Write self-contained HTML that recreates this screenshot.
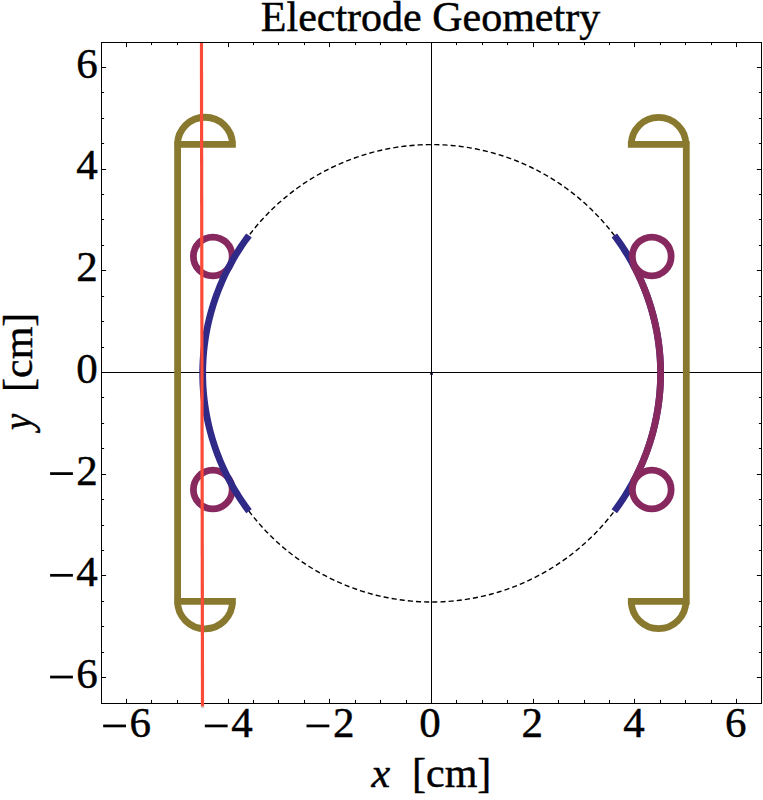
<!DOCTYPE html>
<html><head><meta charset="utf-8"><title>Electrode Geometry</title>
<style>html,body{margin:0;padding:0;background:#fff;}svg{display:block;}text{font-family:"Liberation Serif",serif;fill:#000;stroke:#000;stroke-width:0.45px;stroke-linejoin:round;}</style></head><body>
<svg width="763" height="800" viewBox="0 0 763 800">
<rect width="763" height="800" fill="#fff"/>
<rect x="430.1" y="372.6" width="2.9" height="2.3" rx="0.6" fill="#2f2987"/>
<g stroke="#000" stroke-width="1" fill="none" shape-rendering="crispEdges">
<line x1="101.5" y1="372.5" x2="761.5" y2="372.5"/>
<line x1="431.5" y1="42.5" x2="431.5" y2="703.5"/>
</g>
<path d="M431.65,144.6 L435.65,144.63 L439.64,144.74 L443.63,144.91 L447.62,145.16 L451.6,145.47 L455.58,145.85 L459.55,146.3 L463.51,146.83 L467.47,147.42 L471.41,148.07 L475.34,148.8 L479.25,149.6 L483.15,150.46 L487.04,151.39 L490.91,152.39 L494.76,153.46 L498.59,154.59 L502.4,155.79 L506.19,157.06 L509.96,158.39 L513.7,159.79 L517.42,161.25 L521.11,162.78 L524.77,164.37 L528.41,166.03 L532.02,167.75 L535.59,169.53 L539.14,171.37 L542.65,173.27 L546.12,175.24 L549.57,177.27 L552.98,179.35 L556.35,181.5 L559.68,183.7 L562.97,185.96 L566.22,188.28 L569.44,190.65 L572.61,193.08 L575.73,195.57 L578.82,198.11 L581.85,200.7 L584.85,203.34 L587.79,206.04 L590.69,208.79 L593.54,211.58 L596.34,214.43 L599.09,217.33 L601.79,220.27 L604.44,223.26 L607.04,226.29 L609.58,229.37 L612.07,232.5 L614.5,235.66 L616.87,238.87 L619.19,242.12 L621.46,245.41 L623.66,248.74 L625.81,252.11 L627.9,255.51 L629.93,258.95 L631.89,262.42 L633.8,265.93 L635.65,269.47 L637.43,273.04 L639.15,276.65 L640.81,280.28 L642.4,283.94 L643.93,287.63 L645.39,291.34 L646.79,295.08 L648.13,298.84 L649.39,302.63 L650.6,306.43 L651.73,310.26 L652.8,314.11 L653.8,317.97 L654.73,321.85 L655.6,325.75 L656.39,329.66 L657.12,333.59 L657.78,337.52 L658.37,341.47 L658.89,345.43 L659.35,349.39 L659.73,353.37 L660.04,357.35 L660.29,361.33 L660.46,365.32 L660.57,369.31 L660.6,373.3 L660.57,377.29 L660.46,381.28 L660.29,385.27 L660.04,389.25 L659.73,393.23 L659.35,397.21 L658.89,401.17 L658.37,405.13 L657.78,409.08 L657.12,413.01 L656.39,416.94 L655.6,420.85 L654.73,424.75 L653.8,428.63 L652.8,432.49 L651.73,436.34 L650.6,440.17 L649.39,443.97 L648.13,447.76 L646.79,451.52 L645.39,455.26 L643.93,458.97 L642.4,462.66 L640.81,466.32 L639.15,469.95 L637.43,473.56 L635.65,477.13 L633.8,480.67 L631.89,484.18 L629.93,487.65 L627.9,491.09 L625.81,494.49 L623.66,497.86 L621.46,501.19 L619.19,504.48 L616.87,507.73 L614.5,510.94 L612.07,514.1 L609.58,517.23 L607.04,520.31 L604.44,523.34 L601.79,526.33 L599.09,529.27 L596.34,532.17 L593.54,535.02 L590.69,537.81 L587.79,540.56 L584.85,543.26 L581.85,545.9 L578.82,548.49 L575.73,551.03 L572.61,553.52 L569.44,555.95 L566.22,558.32 L562.97,560.64 L559.68,562.9 L556.35,565.1 L552.98,567.25 L549.57,569.33 L546.12,571.36 L542.65,573.33 L539.14,575.23 L535.59,577.07 L532.02,578.85 L528.41,580.57 L524.77,582.23 L521.11,583.82 L517.42,585.35 L513.7,586.81 L509.96,588.21 L506.19,589.54 L502.4,590.81 L498.59,592.01 L494.76,593.14 L490.91,594.21 L487.04,595.21 L483.15,596.14 L479.25,597 L475.34,597.8 L471.41,598.53 L467.47,599.18 L463.51,599.77 L459.55,600.3 L455.58,600.75 L451.6,601.13 L447.62,601.44 L443.63,601.69 L439.64,601.86 L435.65,601.97 L431.65,602 L427.65,601.97 L423.66,601.86 L419.67,601.69 L415.68,601.44 L411.7,601.13 L407.72,600.75 L403.75,600.3 L399.79,599.77 L395.83,599.18 L391.89,598.53 L387.96,597.8 L384.05,597 L380.15,596.14 L376.26,595.21 L372.39,594.21 L368.54,593.14 L364.71,592.01 L360.9,590.81 L357.11,589.54 L353.34,588.21 L349.6,586.81 L345.88,585.35 L342.19,583.82 L338.53,582.23 L334.89,580.57 L331.28,578.85 L327.71,577.07 L324.16,575.23 L320.65,573.33 L317.18,571.36 L313.73,569.33 L310.32,567.25 L306.95,565.1 L303.62,562.9 L300.33,560.64 L297.08,558.32 L293.86,555.95 L290.69,553.52 L287.57,551.03 L284.48,548.49 L281.45,545.9 L278.45,543.26 L275.51,540.56 L272.61,537.81 L269.76,535.02 L266.96,532.17 L264.21,529.27 L261.51,526.33 L258.86,523.34 L256.26,520.31 L253.72,517.23 L251.23,514.1 L248.8,510.94 L246.43,507.73 L244.11,504.48 L241.84,501.19 L239.64,497.86 L237.49,494.49 L235.4,491.09 L233.37,487.65 L231.41,484.18 L229.5,480.67 L227.65,477.13 L225.87,473.56 L224.15,469.95 L222.49,466.32 L220.9,462.66 L219.37,458.97 L217.91,455.26 L216.51,451.52 L215.17,447.76 L213.91,443.97 L212.7,440.17 L211.57,436.34 L210.5,432.49 L209.5,428.63 L208.57,424.75 L207.7,420.85 L206.91,416.94 L206.18,413.01 L205.52,409.08 L204.93,405.13 L204.41,401.17 L203.95,397.21 L203.57,393.23 L203.26,389.25 L203.01,385.27 L202.84,381.28 L202.73,377.29 L202.7,373.3 L202.73,369.31 L202.84,365.32 L203.01,361.33 L203.26,357.35 L203.57,353.37 L203.95,349.39 L204.41,345.43 L204.93,341.47 L205.52,337.52 L206.18,333.59 L206.91,329.66 L207.7,325.75 L208.57,321.85 L209.5,317.97 L210.5,314.11 L211.57,310.26 L212.7,306.43 L213.91,302.63 L215.17,298.84 L216.51,295.08 L217.91,291.34 L219.37,287.63 L220.9,283.94 L222.49,280.28 L224.15,276.65 L225.87,273.04 L227.65,269.47 L229.5,265.93 L231.41,262.42 L233.37,258.95 L235.4,255.51 L237.49,252.11 L239.64,248.74 L241.84,245.41 L244.11,242.12 L246.43,238.87 L248.8,235.66 L251.23,232.5 L253.72,229.37 L256.26,226.29 L258.86,223.26 L261.51,220.27 L264.21,217.33 L266.96,214.43 L269.76,211.58 L272.61,208.79 L275.51,206.04 L278.45,203.34 L281.45,200.7 L284.48,198.11 L287.57,195.57 L290.69,193.08 L293.86,190.65 L297.08,188.28 L300.33,185.96 L303.62,183.7 L306.95,181.5 L310.32,179.35 L313.73,177.27 L317.17,175.24 L320.65,173.27 L324.16,171.37 L327.71,169.53 L331.28,167.75 L334.89,166.03 L338.53,164.37 L342.19,162.78 L345.88,161.25 L349.6,159.79 L353.34,158.39 L357.11,157.06 L360.9,155.79 L364.71,154.59 L368.54,153.46 L372.39,152.39 L376.26,151.39 L380.15,150.46 L384.05,149.6 L387.96,148.8 L391.89,148.07 L395.83,147.42 L399.79,146.83 L403.75,146.3 L407.72,145.85 L411.7,145.47 L415.68,145.16 L419.67,144.91 L423.66,144.74 L427.65,144.63 L431.65,144.6" fill="none" stroke="#000" stroke-width="1.4" stroke-dasharray="5.1 3.067" stroke-dashoffset="5.55"/>
<path d="M177.6,601.3 L177.6,144.4 M177.55,144.4 L232.45,144.4 M177.55,144.4 A27.45,27.15 0 0 1 232.45,144.4 M177.55,601.3 L232.45,601.3 M177.55,601.3 A27.45,27.55 0 0 0 232.45,601.3 M686.3,601.3 L686.3,144.4 M631.3,144.4 L685.9,144.4 M631.3,144.4 A27.3,27 0 0 1 685.9,144.4 M631.3,601.3 L685.9,601.3 M631.3,601.3 A27.3,27.4 0 0 0 685.9,601.3" fill="none" stroke="#89792e" stroke-width="6.8" stroke-linecap="square"/>
<circle cx="212.8" cy="256.4" r="19.4" fill="none" stroke="#87285f" stroke-width="6.75"/>
<circle cx="212.8" cy="489.5" r="19.4" fill="none" stroke="#87285f" stroke-width="6.75"/>
<path d="M248.99,235.41 L247.15,237.88 L245.34,240.38 L243.56,242.9 L241.82,245.45 L240.11,248.01 L238.44,250.6 L236.8,253.22 L235.2,255.85 L233.63,258.51 L232.1,261.19 L230.6,263.88 L229.14,266.6 L227.72,269.34 L226.34,272.09 L224.99,274.87 L223.68,277.66 L222.41,280.47 L221.17,283.3 L219.98,286.14 L218.82,289 L217.7,291.87 L216.62,294.76 L215.58,297.66 L214.58,300.58 L213.62,303.51 L212.7,306.45 L211.82,309.41 L210.97,312.37 L210.17,315.35 L209.41,318.34 L208.69,321.34 L208.01,324.35 L207.37,327.36 L206.77,330.39 L206.21,333.42 L205.69,336.46 L205.21,339.51 L204.78,342.56 L204.38,345.62 L204.03,348.68 L203.72,351.75 L203.45,354.82 L203.22,357.89 L203.03,360.97 L202.89,364.05 L202.78,367.13 L202.72,370.22 L202.7,373.3 L202.72,376.38 L202.78,379.47 L202.89,382.55 L203.03,385.63 L203.22,388.71 L203.45,391.78 L203.72,394.85 L204.03,397.92 L204.38,400.98 L204.78,404.04 L205.21,407.09 L205.69,410.14 L206.21,413.18 L206.77,416.21 L207.37,419.24 L208.01,422.25 L208.69,425.26 L209.41,428.26 L210.17,431.25 L210.97,434.23 L211.82,437.19 L212.7,440.15 L213.62,443.09 L214.58,446.02 L215.58,448.94 L216.62,451.84 L217.7,454.73 L218.82,457.6 L219.98,460.46 L221.17,463.3 L222.41,466.13 L223.68,468.94 L224.99,471.73 L226.34,474.51 L227.72,477.26 L229.14,480 L230.6,482.72 L232.1,485.41 L233.63,488.09 L235.2,490.75 L236.8,493.38 L238.44,496 L240.11,498.59 L241.82,501.15 L243.56,503.7 L245.34,506.22 L247.15,508.72 L248.99,511.19" fill="none" stroke="#2f2987" stroke-width="6.8"/>
<path d="M614.31,511.19 L616.15,508.72 L617.96,506.22 L619.74,503.7 L621.48,501.15 L623.19,498.59 L624.86,496 L626.5,493.38 L628.1,490.75 L629.67,488.09 L631.2,485.41 L632.7,482.72 L634.16,480 L635.58,477.26 L636.96,474.51 L638.31,471.73 L639.62,468.94 L640.89,466.13 L642.13,463.3 L643.32,460.46 L644.48,457.6 L645.6,454.73 L646.68,451.84 L647.72,448.94 L648.72,446.02 L649.68,443.09 L650.6,440.15 L651.48,437.19 L652.33,434.23 L653.13,431.25 L653.89,428.26 L654.61,425.26 L655.29,422.25 L655.93,419.24 L656.53,416.21 L657.09,413.18 L657.61,410.14 L658.09,407.09 L658.52,404.04 L658.92,400.98 L659.27,397.92 L659.58,394.85 L659.85,391.78 L660.08,388.71 L660.27,385.63 L660.41,382.55 L660.52,379.47 L660.58,376.38 L660.6,373.3 L660.58,370.22 L660.52,367.13 L660.41,364.05 L660.27,360.97 L660.08,357.89 L659.85,354.82 L659.58,351.75 L659.27,348.68 L658.92,345.62 L658.52,342.56 L658.09,339.51 L657.61,336.46 L657.09,333.42 L656.53,330.39 L655.93,327.36 L655.29,324.35 L654.61,321.34 L653.89,318.34 L653.13,315.35 L652.33,312.37 L651.48,309.41 L650.6,306.45 L649.68,303.51 L648.72,300.58 L647.72,297.66 L646.68,294.76 L645.6,291.87 L644.48,289 L643.32,286.14 L642.13,283.3 L640.89,280.47 L639.62,277.66 L638.31,274.87 L636.96,272.09 L635.58,269.34 L634.16,266.6 L632.7,263.88 L631.2,261.19 L629.67,258.51 L628.1,255.85 L626.5,253.22 L624.86,250.6 L623.19,248.01 L621.48,245.45 L619.74,242.9 L617.96,240.38 L616.15,237.88 L614.31,235.41" fill="none" stroke="#2f2987" stroke-width="6.8"/>
<path d="M633.24,481.72 L634.34,479.65 L635.43,477.56 L636.49,475.46 L637.53,473.35 L638.55,471.22 L639.55,469.09 L640.52,466.95 L641.48,464.8 L642.41,462.64 L643.32,460.47 L644.21,458.29 L645.07,456.1 L645.91,453.9 L646.73,451.69 L647.53,449.48 L648.3,447.25 L649.05,445.02 L649.78,442.78 L650.48,440.54 L651.16,438.29 L651.82,436.03 L652.45,433.76 L653.07,431.49 L653.65,429.21 L654.22,426.92 L654.76,424.63 L655.28,422.34 L655.77,420.04 L656.24,417.73 L656.68,415.42 L657.11,413.1 L657.5,410.78 L657.88,408.46 L658.23,406.13 L658.55,403.8 L658.86,401.47 L659.13,399.13 L659.39,396.79 L659.62,394.45 L659.82,392.11 L660.01,389.76 L660.16,387.41 L660.3,385.06 L660.41,382.71 L660.49,380.36 L660.55,378.01 L660.59,375.65 L660.6,373.3 L660.59,370.95 L660.55,368.59 L660.49,366.24 L660.41,363.89 L660.3,361.54 L660.16,359.19 L660.01,356.84 L659.82,354.49 L659.62,352.15 L659.39,349.81 L659.13,347.47 L658.86,345.13 L658.55,342.8 L658.23,340.47 L657.88,338.14 L657.5,335.82 L657.11,333.5 L656.68,331.18 L656.24,328.87 L655.77,326.56 L655.28,324.26 L654.76,321.97 L654.22,319.68 L653.65,317.39 L653.07,315.11 L652.45,312.84 L651.82,310.57 L651.16,308.31 L650.48,306.06 L649.78,303.82 L649.05,301.58 L648.3,299.35 L647.53,297.12 L646.73,294.91 L645.91,292.7 L645.07,290.5 L644.21,288.31 L643.32,286.13 L642.41,283.96 L641.48,281.8 L640.52,279.65 L639.55,277.51 L638.55,275.38 L637.53,273.25 L636.49,271.14 L635.43,269.04 L634.34,266.95 L633.24,264.88" fill="none" stroke="#87285f" stroke-width="6.8"/>
<circle cx="651.75" cy="256.4" r="19.4" fill="none" stroke="#87285f" stroke-width="6.75"/>
<circle cx="651.75" cy="489.5" r="19.4" fill="none" stroke="#87285f" stroke-width="6.75"/>
<g stroke="#000" stroke-width="1" fill="none">
<rect x="101.5" y="42.5" width="660.0" height="661.0" shape-rendering="crispEdges"/>
<line x1="126.5" y1="42.5" x2="126.5" y2="47.1"/><line x1="126.5" y1="703.5" x2="126.5" y2="698.9"/>
<line x1="101.5" y1="677.5" x2="106.1" y2="677.5"/><line x1="761.5" y1="677.5" x2="756.9" y2="677.5"/>
<line x1="151.5" y1="42.5" x2="151.5" y2="45.1"/><line x1="151.5" y1="703.5" x2="151.5" y2="699.9"/>
<line x1="101.5" y1="652.5" x2="104.1" y2="652.5"/><line x1="761.5" y1="652.5" x2="758.9" y2="652.5"/>
<line x1="177.5" y1="42.5" x2="177.5" y2="45.1"/><line x1="177.5" y1="703.5" x2="177.5" y2="699.9"/>
<line x1="101.5" y1="626.5" x2="104.1" y2="626.5"/><line x1="761.5" y1="626.5" x2="758.9" y2="626.5"/>
<line x1="202.5" y1="42.5" x2="202.5" y2="45.1"/><line x1="202.5" y1="703.5" x2="202.5" y2="699.9"/>
<line x1="101.5" y1="601.5" x2="104.1" y2="601.5"/><line x1="761.5" y1="601.5" x2="758.9" y2="601.5"/>
<line x1="228.5" y1="42.5" x2="228.5" y2="47.1"/><line x1="228.5" y1="703.5" x2="228.5" y2="698.9"/>
<line x1="101.5" y1="575.5" x2="106.1" y2="575.5"/><line x1="761.5" y1="575.5" x2="756.9" y2="575.5"/>
<line x1="253.5" y1="42.5" x2="253.5" y2="45.1"/><line x1="253.5" y1="703.5" x2="253.5" y2="699.9"/>
<line x1="101.5" y1="550.5" x2="104.1" y2="550.5"/><line x1="761.5" y1="550.5" x2="758.9" y2="550.5"/>
<line x1="278.5" y1="42.5" x2="278.5" y2="45.1"/><line x1="278.5" y1="703.5" x2="278.5" y2="699.9"/>
<line x1="101.5" y1="525.5" x2="104.1" y2="525.5"/><line x1="761.5" y1="525.5" x2="758.9" y2="525.5"/>
<line x1="304.5" y1="42.5" x2="304.5" y2="45.1"/><line x1="304.5" y1="703.5" x2="304.5" y2="699.9"/>
<line x1="101.5" y1="499.5" x2="104.1" y2="499.5"/><line x1="761.5" y1="499.5" x2="758.9" y2="499.5"/>
<line x1="329.5" y1="42.5" x2="329.5" y2="47.1"/><line x1="329.5" y1="703.5" x2="329.5" y2="698.9"/>
<line x1="101.5" y1="474.5" x2="106.1" y2="474.5"/><line x1="761.5" y1="474.5" x2="756.9" y2="474.5"/>
<line x1="355.5" y1="42.5" x2="355.5" y2="45.1"/><line x1="355.5" y1="703.5" x2="355.5" y2="699.9"/>
<line x1="101.5" y1="448.5" x2="104.1" y2="448.5"/><line x1="761.5" y1="448.5" x2="758.9" y2="448.5"/>
<line x1="380.5" y1="42.5" x2="380.5" y2="45.1"/><line x1="380.5" y1="703.5" x2="380.5" y2="699.9"/>
<line x1="101.5" y1="423.5" x2="104.1" y2="423.5"/><line x1="761.5" y1="423.5" x2="758.9" y2="423.5"/>
<line x1="406.5" y1="42.5" x2="406.5" y2="45.1"/><line x1="406.5" y1="703.5" x2="406.5" y2="699.9"/>
<line x1="101.5" y1="397.5" x2="104.1" y2="397.5"/><line x1="761.5" y1="397.5" x2="758.9" y2="397.5"/>
<line x1="431.5" y1="42.5" x2="431.5" y2="47.1"/><line x1="431.5" y1="703.5" x2="431.5" y2="698.9"/>
<line x1="101.5" y1="372.5" x2="106.1" y2="372.5"/><line x1="761.5" y1="372.5" x2="756.9" y2="372.5"/>
<line x1="456.5" y1="42.5" x2="456.5" y2="45.1"/><line x1="456.5" y1="703.5" x2="456.5" y2="699.9"/>
<line x1="101.5" y1="347.5" x2="104.1" y2="347.5"/><line x1="761.5" y1="347.5" x2="758.9" y2="347.5"/>
<line x1="482.5" y1="42.5" x2="482.5" y2="45.1"/><line x1="482.5" y1="703.5" x2="482.5" y2="699.9"/>
<line x1="101.5" y1="321.5" x2="104.1" y2="321.5"/><line x1="761.5" y1="321.5" x2="758.9" y2="321.5"/>
<line x1="507.5" y1="42.5" x2="507.5" y2="45.1"/><line x1="507.5" y1="703.5" x2="507.5" y2="699.9"/>
<line x1="101.5" y1="296.5" x2="104.1" y2="296.5"/><line x1="761.5" y1="296.5" x2="758.9" y2="296.5"/>
<line x1="533.5" y1="42.5" x2="533.5" y2="47.1"/><line x1="533.5" y1="703.5" x2="533.5" y2="698.9"/>
<line x1="101.5" y1="270.5" x2="106.1" y2="270.5"/><line x1="761.5" y1="270.5" x2="756.9" y2="270.5"/>
<line x1="558.5" y1="42.5" x2="558.5" y2="45.1"/><line x1="558.5" y1="703.5" x2="558.5" y2="699.9"/>
<line x1="101.5" y1="245.5" x2="104.1" y2="245.5"/><line x1="761.5" y1="245.5" x2="758.9" y2="245.5"/>
<line x1="584.5" y1="42.5" x2="584.5" y2="45.1"/><line x1="584.5" y1="703.5" x2="584.5" y2="699.9"/>
<line x1="101.5" y1="219.5" x2="104.1" y2="219.5"/><line x1="761.5" y1="219.5" x2="758.9" y2="219.5"/>
<line x1="609.5" y1="42.5" x2="609.5" y2="45.1"/><line x1="609.5" y1="703.5" x2="609.5" y2="699.9"/>
<line x1="101.5" y1="194.5" x2="104.1" y2="194.5"/><line x1="761.5" y1="194.5" x2="758.9" y2="194.5"/>
<line x1="634.5" y1="42.5" x2="634.5" y2="47.1"/><line x1="634.5" y1="703.5" x2="634.5" y2="698.9"/>
<line x1="101.5" y1="169.5" x2="106.1" y2="169.5"/><line x1="761.5" y1="169.5" x2="756.9" y2="169.5"/>
<line x1="660.5" y1="42.5" x2="660.5" y2="45.1"/><line x1="660.5" y1="703.5" x2="660.5" y2="699.9"/>
<line x1="101.5" y1="143.5" x2="104.1" y2="143.5"/><line x1="761.5" y1="143.5" x2="758.9" y2="143.5"/>
<line x1="685.5" y1="42.5" x2="685.5" y2="45.1"/><line x1="685.5" y1="703.5" x2="685.5" y2="699.9"/>
<line x1="101.5" y1="118.5" x2="104.1" y2="118.5"/><line x1="761.5" y1="118.5" x2="758.9" y2="118.5"/>
<line x1="711.5" y1="42.5" x2="711.5" y2="45.1"/><line x1="711.5" y1="703.5" x2="711.5" y2="699.9"/>
<line x1="101.5" y1="92.5" x2="104.1" y2="92.5"/><line x1="761.5" y1="92.5" x2="758.9" y2="92.5"/>
<line x1="736.5" y1="42.5" x2="736.5" y2="47.1"/><line x1="736.5" y1="703.5" x2="736.5" y2="698.9"/>
<line x1="101.5" y1="67.5" x2="106.1" y2="67.5"/><line x1="761.5" y1="67.5" x2="756.9" y2="67.5"/>
</g>
<line x1="201.45" y1="43" x2="202.5" y2="706.5" stroke="#fa4a38" stroke-width="3.2"/>
<rect x="200.9" y="706.5" width="3.2" height="1.6" fill="#8a9090" opacity="0.45"/>
<text id="title" x="430.5" y="30.9" font-size="42" text-anchor="middle">Electrode Geometry</text>
<rect x="103.16" y="724.55" width="22.8" height="2.75" fill="#000"/>
<text class="xt" x="129.56" y="736.9" font-size="43">6</text>
<rect x="50.1" y="675.66" width="22.8" height="2.75" fill="#000"/>
<text class="yt" x="97.8" y="687.96" font-size="43" text-anchor="end">6</text>
<rect x="204.84" y="724.55" width="22.8" height="2.75" fill="#000"/>
<text class="xt" x="231.24" y="736.9" font-size="43">4</text>
<rect x="50.1" y="573.94" width="22.8" height="2.75" fill="#000"/>
<text class="yt" x="97.8" y="586.24" font-size="43" text-anchor="end">4</text>
<rect x="306.52" y="724.55" width="22.8" height="2.75" fill="#000"/>
<text class="xt" x="332.92" y="736.9" font-size="43">2</text>
<rect x="50.1" y="472.22" width="22.8" height="2.75" fill="#000"/>
<text class="yt" x="97.8" y="484.52" font-size="43" text-anchor="end">2</text>
<text class="xt" x="429.9" y="736.9" font-size="43" text-anchor="middle">0</text>
<text class="yt" x="97.8" y="382.8" font-size="43" text-anchor="end">0</text>
<text class="xt" x="532.28" y="736.9" font-size="43" text-anchor="middle">2</text>
<text class="yt" x="97.8" y="281.08" font-size="43" text-anchor="end">2</text>
<text class="xt" x="633.96" y="736.9" font-size="43" text-anchor="middle">4</text>
<text class="yt" x="97.8" y="179.36" font-size="43" text-anchor="end">4</text>
<text class="xt" x="735.64" y="736.9" font-size="43" text-anchor="middle">6</text>
<text class="yt" x="97.8" y="77.64" font-size="43" text-anchor="end">6</text>
<text id="xl1" x="371.5" y="787" font-size="42" font-style="italic">x</text>
<text id="xl2" x="412" y="787" font-size="42">[cm]</text>
<g transform="translate(31.6,0) rotate(-90)"><text id="yl1" transform="translate(-430,-0.6) scale(0.877,0.98)" x="0" y="0" font-size="42" font-style="italic">y</text><text id="yl2" x="-392" y="0" font-size="42">[cm]</text></g>
</svg></body></html>
